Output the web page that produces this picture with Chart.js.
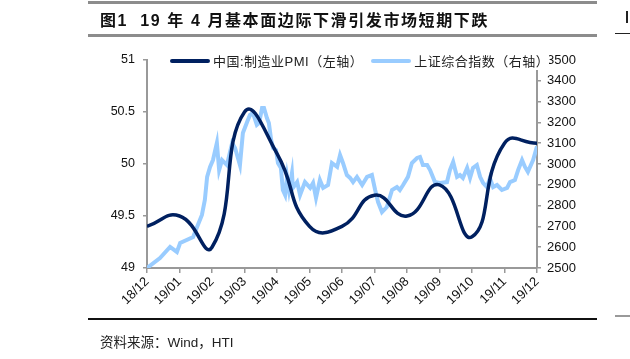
<!DOCTYPE html>
<html>
<head>
<meta charset="utf-8">
<script src="https://cdn.jsdelivr.net/npm/chart.js@4.4.1/dist/chart.umd.min.js"></script>
<style>
  html, body { margin: 0; padding: 0; background: #fff; }
  #wrap { position: relative; width: 630px; height: 359px; overflow: hidden; font-family: "Liberation Sans", Arial, sans-serif; }
  #c { position: absolute; left: 0; top: 0; }
  .hl { position: absolute; height: 0; }
  #title { position: absolute; left: 100px; top: 7px; font-family: "Liberation Sans", "Noto Sans CJK SC", sans-serif; font-weight: bold; font-size: 16px; letter-spacing: 1.6px; color: #111; white-space: nowrap; }
  #source { position: absolute; left: 100px; top: 331px; font-family: "Liberation Sans", "Noto Sans CJK SC", sans-serif; font-size: 13.5px; color: #222; white-space: nowrap; }
  #legend { position: absolute; left: 170px; top: 51px; font-family: "Liberation Sans", "Noto Sans CJK SC", sans-serif; font-size: 13px; letter-spacing: 0.5px; color: #222; white-space: nowrap; }
  .li { display: inline-block; vertical-align: middle; background: #fff; }
  .sw { display: inline-block; width: 40px; height: 4px; vertical-align: middle; margin-right: 3px; border-radius: 2px; }
</style>
</head>
<body>
<div id="wrap">
  <canvas id="c" width="630" height="359"></canvas>
  <div class="hl" style="left:88px;top:1px;width:509px;border-top:3px solid #8c8c8c;"></div>
  <div class="hl" style="left:88px;top:34px;width:509px;border-top:3px solid #8c8c8c;"></div>
  <div id="title">图1&nbsp;&nbsp;19 年 4 月基本面边际下滑引发市场短期下跌</div>
  <div class="hl" style="left:615px;top:33px;width:15px;border-top:1.5px solid #222;"></div>
  <div class="hl" style="left:626px;top:11px;width:0;height:12px;border-left:2px solid #222;"></div>
  <div class="hl" style="left:88px;top:318px;width:509px;border-top:2px solid #111;"></div>
  <div class="hl" style="left:615px;top:315px;width:15px;border-top:2px solid #999;"></div>
  <div id="source">资料来源：Wind，HTI</div>
  <div id="legend"><span class="sw" style="background:#002060"></span><span class="li">中国:制造业PMI（左轴）</span><span style="display:inline-block;width:8px"></span><span class="sw" style="background:#99ccff"></span><span class="li">上证综合指数（右轴）</span></div>
</div>
<script>
// Month tick labels (x = month index from 18/12)
const monthLabels = ["18/12","19/01","19/02","19/03","19/04","19/05","19/06","19/07","19/08","19/09","19/10","19/11","19/12"];
// China manufacturing PMI (left axis), monthly
const pmiValues = [49.4, 49.5, 49.2, 50.5, 50.1, 49.4, 49.4, 49.7, 49.5, 49.8, 49.3, 50.2, 50.2];
// Shanghai Composite (right axis): time in months since 18/12, value
const sseTime = [0.00,0.40,0.71,0.92,1.02,1.42,1.54,1.69,1.78,1.85,1.94,2.03,2.15,2.22,2.31,2.46,2.62,2.71,2.86,2.95,3.08,3.17,3.26,3.38,3.45,3.54,3.60,3.69,3.75,3.82,3.88,3.97,4.03,4.12,4.18,4.25,4.31,4.37,4.46,4.49,4.62,4.71,4.86,5.02,5.11,5.20,5.32,5.42,5.57,5.69,5.85,5.94,6.03,6.15,6.25,6.34,6.46,6.62,6.77,6.92,7.02,7.11,7.23,7.38,7.54,7.69,7.78,7.88,8.03,8.15,8.31,8.40,8.49,8.62,8.71,8.86,9.02,9.23,9.32,9.42,9.54,9.63,9.72,9.85,9.94,10.03,10.15,10.25,10.34,10.46,10.55,10.65,10.77,10.92,11.08,11.17,11.32,11.42,11.54,11.63,11.72,11.88,12.00];
const sseValues = [2500,2548,2601,2577,2620,2649,2697,2755,2827,2938,2986,3019,3101,2971,3019,2995,3101,3077,2995,3149,3202,3236,3245,3188,3197,3269,3269,3221,3197,3115,3077,3067,3005,2981,2875,2851,2938,2875,2957,2885,2913,2851,2913,2885,2909,2837,2923,2885,2899,3005,2986,3043,3005,2947,2933,2913,2938,2899,2938,2947,2875,2817,2769,2793,2875,2889,2875,2899,2938,3005,3029,3034,2995,2995,2971,2913,2909,2913,2971,3010,2938,2947,2933,2981,2933,2981,2995,2938,2909,2889,2933,2889,2899,2875,2885,2913,2923,2971,3019,2986,2962,3019,3085];

const pmiData = pmiValues.map((v, i) => ({ x: i, y: v }));
const sseData = sseValues.map((v, i) => ({ x: sseTime[i], y: v }));

const tickFont = { family: "'Liberation Sans', Arial, sans-serif", size: 12.5 };

new Chart(document.getElementById('c'), {
  type: 'line',
  data: {
    datasets: [
      { label: '上证综合指数（右轴）', data: sseData, yAxisID: 'yR', borderColor: '#99ccff', borderWidth: 4, pointRadius: 0, tension: 0, order: 2 },
      { label: '中国:制造业PMI（左轴）', data: pmiData, yAxisID: 'yL', borderColor: '#002060', borderWidth: 3.5, pointRadius: 0, tension: 0.5, capBezierPoints: false, order: 1 }
    ]
  },
  options: {
    responsive: false,
    animation: false,
    layout: { padding: { top: 60, left: 0, right: 0, bottom: 0 } },
    plugins: { legend: { display: false }, tooltip: { enabled: false } },
    scales: {
      x: {
        type: 'linear', min: 0, max: 12,
        afterFit: s => { s.height = 91; },
        afterBuildTicks: s => { s.ticks = monthLabels.map((_, i) => ({ value: i })); },
        ticks: { callback: v => monthLabels[v], color: '#111', font: { family: "'Liberation Sans', Arial, sans-serif", size: 13 }, maxRotation: 45, minRotation: 45, autoSkip: false, padding: 1 },
        grid: { drawOnChartArea: false, drawTicks: true, tickLength: 5, color: '#999', lineWidth: 1.5 },
        border: { display: true, color: '#999', width: 2 }
      },
      yL: {
        position: 'left', min: 49, max: 51,
        afterFit: s => { s.width = 147; },
        ticks: { stepSize: 0.5, color: '#111', font: tickFont, padding: 8, callback: v => String(Math.round(v * 10) / 10) },
        grid: { drawOnChartArea: false, drawTicks: true, tickLength: 4, color: '#999', lineWidth: 1.5 },
        border: { display: true, color: '#999', width: 2 }
      },
      yR: {
        position: 'right', min: 2500, max: 3500,
        afterFit: s => { s.width = 93; },
        ticks: { stepSize: 100, color: '#111', font: { family: "'Liberation Sans', Arial, sans-serif", size: 13 }, padding: 6, callback: v => String(v) },
        grid: { drawOnChartArea: false, drawTicks: true, tickLength: 4, color: '#999', lineWidth: 1.5 },
        border: { display: true, color: '#999', width: 2 }
      }
    }
  }
});
</script>
</body>
</html>
